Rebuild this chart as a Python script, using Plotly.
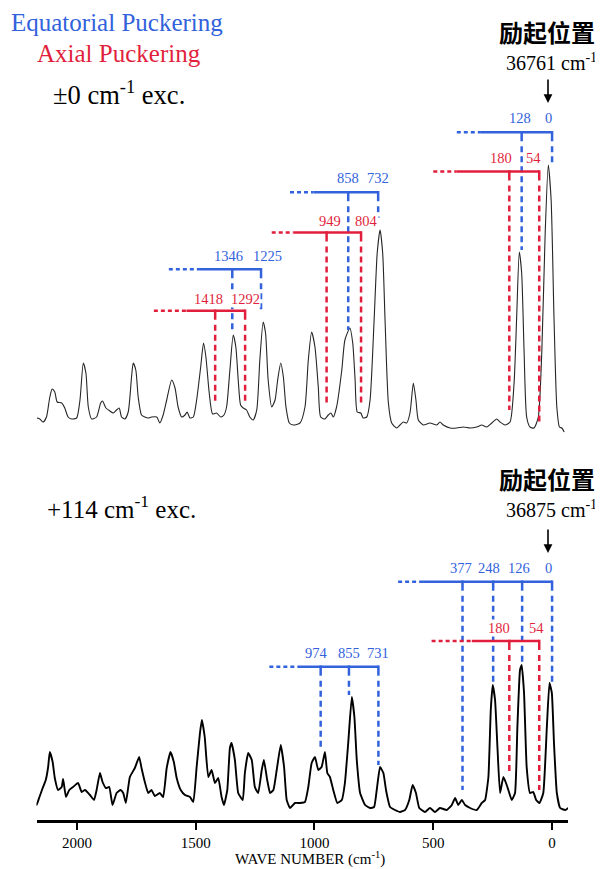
import plotly.graph_objects as go

# ---------------- data ----------------
# spectrum excited at 36761 cm-1 (±0 cm-1 exc.)
top_wn = [2168, 2156, 2142, 2128, 2114, 2104, 2093, 2083, 2064, 2051,
          2037, 2022, 2001, 1987, 1973, 1962, 1952, 1938, 1917, 1900,
          1892, 1878, 1861, 1847, 1833, 1822, 1812, 1798, 1784, 1770,
          1763, 1752, 1742, 1728, 1714, 1700, 1686, 1664, 1651, 1637,
          1622, 1601, 1587, 1574, 1559, 1545, 1536, 1524, 1510, 1496,
          1479, 1467, 1457, 1443, 1429, 1412, 1395, 1381, 1370, 1356,
          1342, 1331, 1321, 1311, 1300, 1286, 1272, 1258, 1243, 1230,
          1216, 1206, 1195, 1180, 1166, 1155, 1142, 1131, 1120, 1106,
          1089, 1061, 1040, 1026, 1012, 998, 984, 974, 956, 942,
          931, 921, 907, 885, 872, 851, 839, 829, 820, 805,
          795, 780, 766, 749, 736, 724, 713, 703, 689, 675,
          654, 640, 626, 612, 598, 584, 573, 563, 542, 514,
          485, 472, 458, 429, 401, 373, 345, 317, 296, 275,
          254, 233, 219, 198, 177, 160, 149, 138, 128, 118,
          107, 93, 76, 58, 43, 29, 16, 4, -8, -20,
          -31, -41, -51]
top_int = [17, 16, 13, 18, 38, 46, 43, 33, 32, 27,
           18, 16, 17, 35, 72, 62, 28, 16, 18, 32,
           34, 27, 24, 22, 25, 27, 18, 16, 23, 58,
           72, 65, 38, 20, 18, 17, 18, 18, 12, 20,
           35, 55, 47, 28, 18, 20, 23, 17, 18, 35,
           68, 92, 78, 42, 21, 22, 18, 20, 28, 65,
           100, 88, 55, 30, 27, 25, 18, 15, 25, 75,
           113, 102, 55, 28, 35, 55, 72, 58, 28, 12,
           10, 12, 28, 75, 103, 88, 48, 18, 16, 20,
           22, 18, 28, 65, 95, 107, 92, 55, 23, 22,
           17, 18, 35, 115, 182, 205, 182, 115, 32, 12,
           7, 10, 13, 12, 22, 52, 35, 15, 10, 12,
           10, 13, 10, 7, 7, 8, 7, 8, 10, 8,
           12, 16, 13, 10, 13, 52, 118, 183, 162, 85,
           18, 8, 7, 18, 85, 202, 270, 235, 118, 28,
           8, 7, 3]

# spectrum excited at 36875 cm-1 (+114 cm-1 exc.)
bot_wn = [2184, 2170, 2159, 2144, 2131, 2121, 2114, 2102, 2093, 2079,
          2064, 2058, 2046, 2032, 2016, 1995, 1980, 1966, 1945, 1928,
          1917, 1903, 1892, 1878, 1864, 1850, 1833, 1816, 1805, 1794,
          1777, 1756, 1738, 1728, 1714, 1700, 1686, 1672, 1651, 1637,
          1622, 1606, 1592, 1580, 1563, 1545, 1524, 1510, 1496, 1482,
          1474, 1462, 1447, 1433, 1419, 1405, 1391, 1381, 1367, 1356,
          1349, 1335, 1321, 1302, 1293, 1279, 1264, 1251, 1237, 1222,
          1213, 1199, 1187, 1173, 1159, 1142, 1128, 1117, 1103, 1082,
          1061, 1040, 1026, 1012, 998, 984, 970, 956, 946, 935,
          921, 904, 885, 872, 858, 843, 832, 822, 808, 787,
          766, 749, 738, 724, 710, 699, 682, 661, 640, 619,
          601, 587, 573, 559, 535, 514, 493, 472, 443, 422,
          408, 395, 380, 366, 345, 317, 296, 282, 268, 258,
          250, 240, 230, 219, 205, 194, 184, 170, 156, 146,
          135, 128, 118, 107, 93, 79, 67, 53, 37, 22,
          11, 1, -8, -20, -34, -55, -69, -76]
bot_int = [18, 10, 17, 27, 35, 48, 63, 53, 37, 25,
           28, 36, 18, 25, 28, 32, 23, 25, 20, 15,
           25, 42, 33, 27, 28, 10, 22, 25, 22, 12,
           38, 47, 58, 47, 33, 22, 25, 19, 22, 18,
           47, 63, 53, 37, 25, 20, 18, 13, 48, 82,
           95, 78, 38, 45, 32, 37, 18, 10, 25, 67,
           72, 55, 22, 15, 42, 62, 55, 28, 22, 45,
           55, 35, 22, 25, 45, 70, 48, 15, 7, 12,
           12, 13, 28, 52, 58, 45, 48, 63, 42, 38,
           25, 12, 15, 32, 72, 118, 98, 55, 22, 10,
           7, 8, 25, 48, 42, 25, 8, 5, 3, 5,
           15, 30, 22, 7, 3, 7, 3, 7, 5, 10,
           17, 10, 15, 10, 7, 5, 12, 15, 38, 105,
           130, 115, 68, 22, 38, 32, 25, 15, 22, 88,
           145, 150, 122, 48, 22, 23, 15, 12, 22, 88,
           132, 122, 72, 22, 7, 5, 7, 6]

tick_vals = [2000, 1500, 1000, 500, 0]
tick_text = ["2000", "1500", "1000", "500", "0"]

# vibrational progressions marked on each spectrum (cm-1)
top_equatorial = [[128, 0], [858, 732], [1346, 1225]]
top_axial = [[180, 54], [949, 804], [1418, 1292]]
bot_equatorial = [[377, 248, 126, 0], [974, 855, 731]]
bot_axial = [[180, 54]]

exc_top = "36761"
exc_bot = "36875"

# ---------------- style ----------------
SERIF = "Liberation Serif, Times New Roman, serif"
CJK = "Noto Sans CJK SC, Noto Sans CJK JP, sans-serif"
BLUE = "#3262dc"
RED = "#e11f3d"
W, H = 603, 869          # window size
OFF = 8                  # page body margin of the html page
FW, FH = W - OFF, H - OFF
AXIS_PY = 820            # x-axis line position in window pixels
PLOT_H = AXIS_PY - OFF   # plot area height in figure pixels


def py2paper(py):
    return (AXIS_PY - py) / PLOT_H


def px2paper(px):
    return (px - OFF) / FW


SPLIT = py2paper(440)

fig = go.Figure()
fig.add_trace(go.Scatter(
    x=top_wn, y=top_int, xaxis="x", yaxis="y2", mode="lines",
    line=dict(color="#262626", width=1.1, shape="spline", smoothing=0.6),
    hoverinfo="skip", showlegend=False))
fig.add_trace(go.Scatter(
    x=bot_wn, y=bot_int, xaxis="x", yaxis="y", mode="lines",
    line=dict(color="#000000", width=1.9, shape="spline", smoothing=0.4),
    hoverinfo="skip", showlegend=False))

# bracket layout (levels in panel intensity units, extents in cm-1)
bracket_specs = [
    (top_equatorial[0], BLUE, "y2", 302.7, 317, 175, 98, [185, 272], [-2, -4]),
    (top_axial[0], RED, "y2", 263.5, 277, 221, 99, [25, 10], [-8, -6]),
    (top_equatorial[1], BLUE, "y2", 242.7, 257, 146, 99, [105, 217], [0, 0]),
    (top_axial[1], RED, "y2", 202.5, 214, 140, 91, [30, 30], [3, 5]),
    (top_equatorial[2], BLUE, "y2", 165.7, 179, 136, 131, [105, 122], [-4, 6]),
    (top_axial[2], RED, "y2", 124.3, 136, 121, 137, [32, 32], [-7, 0]),
    (bot_equatorial[0], BLUE, "y", 233.3, 247, 166, 105, [25, 132, 152, 133], [-2, -4, -3, -4]),
    (bot_axial[0], RED, "y", 174.0, 187, 158, 169, [42, 25], [-10, -3]),
    (bot_equatorial[1], BLUE, "y", 148.3, 162, 87, 129, [65, 120, 50], [-4, 0, 0]),
]

shapes = []
annotations = []
LW = 2.5
for vals, col, yref, level, lab, s_ext, d_ext, drops, shifts in bracket_specs:
    hi, lo = max(vals), min(vals)
    shapes.append(dict(type="line", xref="x", yref=yref, x0=hi + s_ext, x1=lo,
                       y0=level, y1=level, line=dict(color=col, width=LW)))
    shapes.append(dict(type="line", xref="x", yref=yref, x0=hi + s_ext + d_ext,
                       x1=hi + s_ext, y0=level, y1=level,
                       line=dict(color=col, width=LW, dash="4px,3px")))
    for v, d, sh in zip(vals, drops, shifts):
        shapes.append(dict(type="line", xref="x", yref=yref, x0=v, x1=v,
                           y0=level + LW / 2, y1=level - 9, line=dict(color=col, width=LW)))
        shapes.append(dict(type="line", xref="x", yref=yref, x0=v, x1=v,
                           y0=level - 14, y1=d,
                           line=dict(color=col, width=LW, dash="6px,4px")))
        annotations.append(dict(x=v, y=lab, xref="x", yref=yref, text=str(v),
                                showarrow=False, xshift=sh, xanchor="center",
                                yanchor="middle", bgcolor="white", borderpad=0,
                                font=dict(family=SERIF, size=14.5, color=col)))


# free text
def txt(text, px, py, size, color="black", family=SERIF, xanchor="left"):
    annotations.append(dict(x=px2paper(px), y=py2paper(py), xref="paper", yref="paper",
                            text=text, showarrow=False, xanchor=xanchor,
                            yanchor="middle", font=dict(family=family, size=size, color=color)))


txt("Equatorial Puckering", 9, 22, 25, BLUE)
txt("Axial Puckering", 35, 54, 25, RED)
txt("±0 cm<sup>-1</sup> exc.", 51, 93, 26.5)
txt("+114 cm<sup>-1</sup> exc.", 45, 507, 25)
txt("<b>励起位置</b>", 547, 31, 24, family=CJK, xanchor="center")
txt("<b>励起位置</b>", 547, 478, 24, family=CJK, xanchor="center")
txt(exc_top + " cm<sup>-1</sup>", 599, 62, 20, xanchor="right")
txt(exc_bot + " cm<sup>-1</sup>", 599, 509, 20, xanchor="right")
txt("WAVE NUMBER (cm<sup>-1</sup>)", 310, 858, 15, xanchor="center")

for tip in (103, 553):
    annotations.append(dict(x=px2paper(548), y=py2paper(tip), xref="paper", yref="paper",
                            text="", showarrow=True, ax=0, ay=-25, arrowhead=2,
                            arrowsize=1.1, arrowwidth=1.6, arrowcolor="black"))

fig.update_layout(
    width=FW, height=FH,
    margin=dict(l=0, r=0, t=0, b=FH - PLOT_H, pad=0),
    paper_bgcolor="white", plot_bgcolor="white",
    template="none",
    showlegend=False,
    xaxis=dict(domain=[px2paper(36.5), px2paper(568)], range=[2170, -67], anchor="y",
               showline=True, linecolor="black", linewidth=2.5,
               ticks="outside", ticklen=7, tickwidth=2, tickcolor="black",
               tickvals=tick_vals, ticktext=tick_text,
               tickfont=dict(family=SERIF, size=15, color="black"),
               showgrid=False, zeroline=False),
    yaxis=dict(domain=[0, SPLIT], range=[-5, 375], visible=False),
    yaxis2=dict(domain=[SPLIT, 1], range=[-5, 435 - OFF], visible=False),
    shapes=shapes,
    annotations=annotations,
)

fig.write_html("out.html")
